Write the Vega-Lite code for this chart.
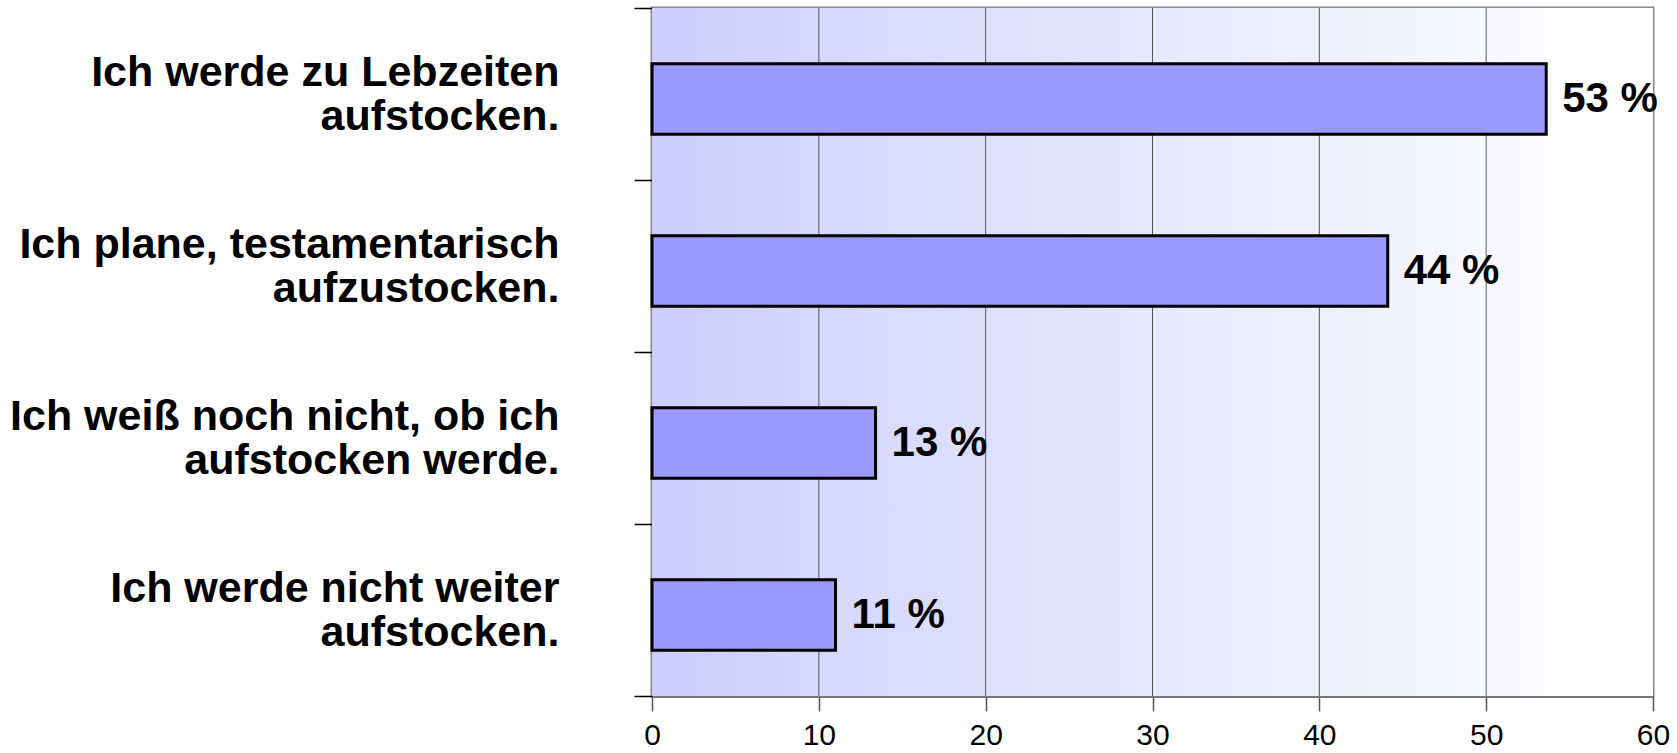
{
  "$schema": "https://vega.github.io/schema/vega-lite/v6.json",
  "width": 1001,
  "height": 688,
  "autosize": "none",
  "padding": {"left": 652, "top": 8, "right": 24, "bottom": 57},
  "background": "white",
  "config": {
    "font": "Liberation Sans",
    "view": {"stroke": "#888888", "strokeWidth": 3},
    "axisX": {
      "labelFontSize": 30,
      "labelColor": "black",
      "labelFlush": false,
      "labelOverlap": false,
      "labelPadding": 9,
      "tickSize": 15,
      "tickColor": "#555555",
      "tickWidth": 1.5,
      "domainColor": "#777777",
      "domainWidth": 3,
      "grid": false,
      "title": null
    },
    "axisY": {
      "labelFontSize": 43,
      "labelFontWeight": "bold",
      "labelColor": "black",
      "labelLineHeight": 44,
      "labelPadding": 75,
      "labelLimit": 700,
      "labelOffset": -22,
      "tickSize": 18,
      "tickColor": "black",
      "tickWidth": 1.5,
      "tickBand": "extent",
      "domain": false,
      "grid": false,
      "title": null
    }
  },
  "data": {
    "values": [
      {"answer": "Ich werde zu Lebzeiten|aufstocken.", "value": 53.6, "label": "53 %"},
      {"answer": "Ich plane, testamentarisch|aufzustocken.", "value": 44.1, "label": "44 %"},
      {"answer": "Ich weiß noch nicht, ob ich|aufstocken werde.", "value": 13.4, "label": "13 %"},
      {"answer": "Ich werde nicht weiter|aufstocken.", "value": 11.0, "label": "11 %"}
    ]
  },
  "layer": [
    {
      "data": {"values": [{"start": 0, "end": 60}]},
      "mark": {
        "type": "rect",
        "fill": {
          "gradient": "linear",
          "x1": 0, "y1": 0, "x2": 1, "y2": 0,
          "stops": [
            {"offset": 0, "color": "#cecefe"},
            {"offset": 0.893, "color": "#fbfbff"},
            {"offset": 0.895, "color": "#ffffff"},
            {"offset": 1, "color": "#ffffff"}
          ]
        }
      },
      "encoding": {
        "x": {"field": "start", "type": "quantitative", "scale": {"domain": [0, 60], "nice": false}, "axis": {"values": [0, 10, 20, 30, 40, 50, 60]}, "title": null},
        "x2": {"field": "end"}
      }
    },
    {
      "data": {"values": [{"g": 10}, {"g": 20}, {"g": 30}, {"g": 40}, {"g": 50}]},
      "mark": {"type": "rule", "color": "#555555", "strokeWidth": 1},
      "encoding": {
        "x": {"field": "g", "type": "quantitative", "axis": {"values": [0, 10, 20, 30, 40, 50, 60]}, "title": null}
      }
    },
    {
      "mark": {"type": "bar", "fill": "#9999ff", "stroke": "black", "strokeWidth": 3, "height": {"band": 0.41}, "yOffset": 5},
      "encoding": {
        "y": {
          "field": "answer", "type": "nominal", "sort": null,
          "scale": {"paddingInner": 0, "paddingOuter": 0},
          "axis": {"labelExpr": "datum.value ? split(datum.value, '|') : ''"}
        },
        "x": {"field": "value", "type": "quantitative", "axis": {"values": [0, 10, 20, 30, 40, 50, 60]}, "title": null}
      }
    },
    {
      "mark": {"type": "text", "align": "left", "baseline": "middle", "dx": 16, "dy": 5, "fontSize": 42, "fontWeight": "bold", "color": "black"},
      "encoding": {
        "y": {"field": "answer", "type": "nominal", "sort": null},
        "x": {"field": "value", "type": "quantitative", "axis": {"values": [0, 10, 20, 30, 40, 50, 60]}, "title": null},
        "text": {"field": "label"}
      }
    }
  ]
}
